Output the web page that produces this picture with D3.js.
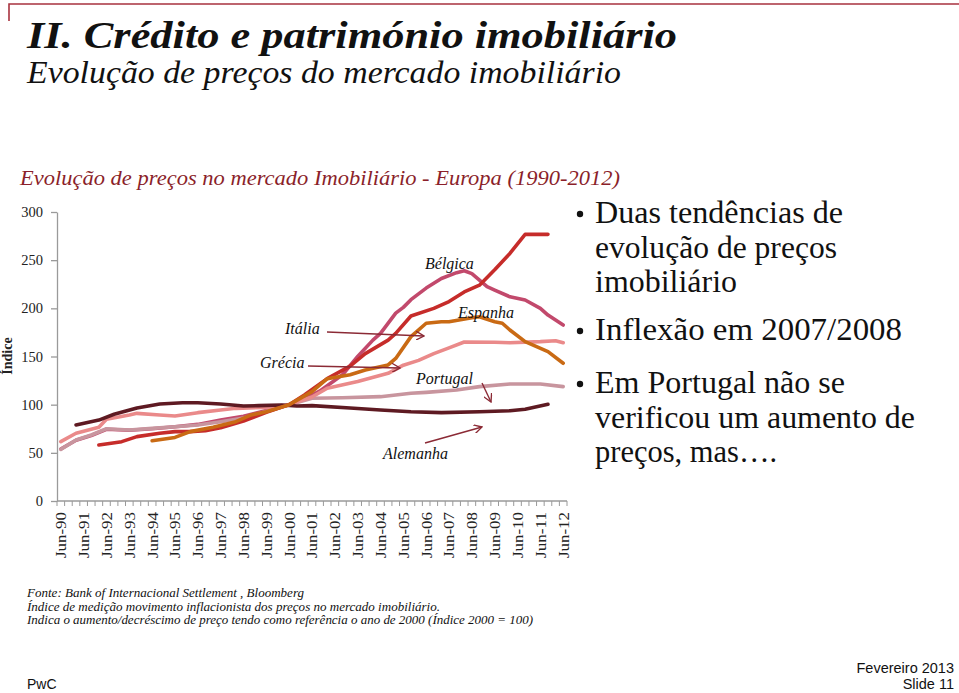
<!DOCTYPE html>
<html><head><meta charset="utf-8">
<script src="https://cdn.jsdelivr.net/npm/d3@7/dist/d3.min.js"></script>
<style>body{margin:0;background:#fff}svg{display:block}</style>
</head><body>
<svg id="c" width="959" height="693"></svg>
<script>
// ---------- DATA ----------
const tickLabels = ["Jun-90","Jun-91","Jun-92","Jun-93","Jun-94","Jun-95","Jun-96","Jun-97","Jun-98","Jun-99","Jun-00","Jun-01","Jun-02","Jun-03","Jun-04","Jun-05","Jun-06","Jun-07","Jun-08","Jun-09","Jun-10","Jun-11","Jun-12"];
const periodMonths = ["Jun","Oct","Feb"];
const yTicks = [0,50,100,150,200,250,300];
// series as [category index (4-month steps from Jun-90), index value]
const alemanha = [[2,79],[5,84],[7,90],[10,96.5],[13,100.7],[16,102],[18,102],[21,100.7],[24,98.6],[26,99],[29,99.7],[31,98.6],[33,99],[38,96.5],[42,94.5],[46,92.7],[50,91.7],[55,92.7],[59,93.7],[61,95.2],[64,100.4]];
const espanhaRed = [[5,58.1],[8,61.6],[10,66.8],[13,70.3],[15,72],[17,72],[19,73],[21,76],[24,83],[27,92],[30,100],[32,110],[35,127],[38,140],[40,153],[43,167],[44,174],[46,192],[49,200],[51,207],[53,217],[55,224],[57,240],[59,257],[61,276.8],[64,276.8]];
const belgica = [[0,54],[2,63],[4,68],[6,74.5],[9,73.5],[12,75],[15,77],[18,79.5],[21,84],[24,88],[27,94],[30,100],[32,106],[34,114],[37,131],[39,150],[41,167],[42,174],[44,195],[45,201],[46,209],[48,221],[50,231],[52,237],[53,239],[54,236],[56,222.5],[57,219],[59,212],[61,208.7],[63,200],[64,193],[66,182.7]];
const laranja = [[12,62.6],[15,66],[17,72],[20,76.5],[23,82.3],[25,89.3],[27,92.7],[30,100],[33,113.5],[35,127],[38,131],[40,136],[43,141.2],[44,148],[46,170.6],[48,184.5],[50,186],[51,186],[54,190.3],[55,191.3],[57,186],[58,184.5],[59,177.5],[61,165.4],[64,155],[66,143]];
const italia = [[0,61.6],[2,70.3],[5,76.5],[6,84.8],[9,89.3],[10,91],[13,89.3],[15,88.2],[18,91.7],[21,94.5],[23,96.2],[27,97.2],[30,100],[33,108],[35,117],[39,124],[43,132.5],[45,141],[47,146],[49,153],[51,159],[53,165],[57,164.8],[59,164.3],[63,165.4],[65,166.4],[66,164.3]];
const portugal = [[0,53.6],[2,63.3],[4,68.5],[6,75],[9,73.7],[12,75.4],[15,77.1],[18,78.9],[21,82.3],[24,86],[27,93],[30,100],[33,106.6],[37,107.2],[42,108.3],[46,111.8],[48,112.8],[52,115.2],[55,118.7],[59,121.5],[63,121.5],[66,118.7]];
const seriesNames = ["belgica","portugal","italia","alemanha","espanhaRed","laranja"];
const seriesData = [belgica, portugal, italia, alemanha, espanhaRed, laranja];
const seriesColors = ["#c2496c","#c8959e","#ea8a8a","#5e1a22","#c62c2a","#c96a14"];
const annLabels = ["Bélgica","Espanha","Itália","Grécia","Portugal","Alemanha"];
const bullets = [["Duas tendências de","evolução de preços","imobiliário"],["Inflexão em 2007/2008"],["Em Portugal não se","verificou um aumento de","preços, mas…."]];
const notes = ["Fonte: Bank of Internacional Settlement , Bloomberg","Índice de medição movimento inflacionista dos preços no mercado imobiliário.","Indica o aumento/decréscimo de preço tendo como referência o ano de 2000 (Índice 2000 = 100)"];

// categories (67 four-month periods)
const categories = d3.range(67).map(i => {
  const m = periodMonths[i % 3];
  const yr = 1990 + Math.floor(i / 3) + (i % 3 === 2 ? 1 : 0);
  return m + "-" + String(yr % 100).padStart(2, "0");
});

// ---------- DRAW ----------
const svg = d3.select("#c");
const serif = "'Liberation Serif', 'DejaVu Serif', serif";
const sans = "'Liberation Sans', Arial, sans-serif";
const x = d3.scaleBand().domain(categories).range([57, 567]).padding(0);
const y = d3.scaleLinear().domain([0, 300]).range([501, 212]);
const cx = i => x(categories[i]) + x.bandwidth() / 2;

// frame
svg.append("path").attr("d", "M9,21V4H959").attr("fill", "none").attr("stroke", "#a8323f").attr("stroke-width", 1.6);

function fitText(sel, w) { sel.attr("textLength", w).attr("lengthAdjust", "spacingAndGlyphs"); return sel; }

fitText(svg.append("text").attr("x", 27).attr("y", 48).attr("font-family", serif).attr("font-weight", "bold").attr("font-style", "italic").attr("font-size", 37).attr("fill", "#111").text("II. Crédito e património imobiliário"), 650);
fitText(svg.append("text").attr("x", 27).attr("y", 83).attr("font-family", serif).attr("font-style", "italic").attr("font-size", 31).attr("fill", "#111").text("Evolução de preços do mercado imobiliário"), 594);
fitText(svg.append("text").attr("x", 20).attr("y", 185).attr("font-family", serif).attr("font-style", "italic").attr("font-size", 21).attr("fill", "#8b1f2a").text("Evolução de preços no mercado Imobiliário - Europa (1990-2012)"), 600);

// y axis
const ya = svg.append("g").attr("transform", "translate(57,0)").call(d3.axisLeft(y).tickValues(yTicks).tickSize(6).tickSizeOuter(0).tickPadding(8));
ya.select(".domain").attr("stroke", "#9a9a9a").attr("stroke-width", 1.3);
ya.selectAll(".tick line").attr("stroke", "#9a9a9a").attr("stroke-width", 1.3);
ya.selectAll(".tick text").attr("font-family", serif).attr("font-size", 14.5).attr("fill", "#222");

svg.append("text").attr("transform", "translate(12,356) rotate(-90)").attr("text-anchor", "middle").attr("font-family", serif).attr("font-weight", "bold").attr("font-size", 14).attr("fill", "#222").text("Índice");

// x axis
const xg = svg.append("g");
xg.append("line").attr("x1", x.range()[0]).attr("x2", x.range()[1]).attr("y1", y(0)).attr("y2", y(0)).attr("stroke", "#9a9a9a").attr("stroke-width", 1.3);
const bounds = categories.map(c => x(c)).concat([x.range()[1]]);
xg.selectAll(".xt").data(bounds).enter().append("line").attr("x1", d => d).attr("x2", d => d).attr("y1", y(0)).attr("y2", y(0) + 5).attr("stroke", "#9a9a9a").attr("stroke-width", 1);
xg.selectAll(".xl").data(tickLabels).enter().append("text")
  .attr("transform", d => `translate(${cx(categories.indexOf(d))},${y(0) + 11}) rotate(-90)`)
  .attr("text-anchor", "end").attr("dy", "0.35em").attr("font-family", serif).attr("font-size", 15.5).attr("fill", "#222")
  .attr("textLength", 46).attr("lengthAdjust", "spacingAndGlyphs").text(d => d);

// lines
const line = d3.line().x(d => cx(d[0])).y(d => y(d[1]));
svg.append("g").selectAll("path").data(seriesData).enter().append("path")
  .attr("d", line).attr("fill", "none").attr("stroke", (d, i) => seriesColors[i])
  .attr("stroke-width", 3.6).attr("stroke-linejoin", "round").attr("stroke-linecap", "round");

// annotations
const annPos = [[425,269],[458,318],[285,334],[260,368],[416,384],[383,459]];
svg.append("g").selectAll("text").data(annLabels).enter().append("text")
  .attr("x", (d, i) => annPos[i][0]).attr("y", (d, i) => annPos[i][1])
  .attr("font-family", serif).attr("font-style", "italic").attr("font-size", 16).attr("fill", "#111").text(d => d);

svg.append("defs").append("marker").attr("id", "arr").attr("viewBox", "0 0 10 10").attr("refX", 9).attr("refY", 5)
  .attr("markerWidth", 9).attr("markerHeight", 9).attr("markerUnits", "userSpaceOnUse").attr("orient", "auto")
  .append("path").attr("d", "M0,0L9,5L0,10").attr("fill", "none").attr("stroke", "#8b2a35").attr("stroke-width", 1.5);
const arrows = [[327,332,424,336],[308,366,400,368],[482,383,491,402],[425,443,482,427]];
svg.append("g").selectAll("line").data(arrows).enter().append("line")
  .attr("x1", d => d[0]).attr("y1", d => d[1]).attr("x2", d => d[2]).attr("y2", d => d[3])
  .attr("stroke", "#8b2a35").attr("stroke-width", 1.4).attr("marker-end", "url(#arr)");

// bullets
const bulletTop = [223, 340, 393];
const lineH = 34.5;
const bulletW = [[248,242,142],[307],[250,320,182]];
bullets.forEach((lines, bi) => {
  svg.append("circle").attr("cx", 580).attr("cy", bulletTop[bi] - 9).attr("r", 3.2).attr("fill", "#111");
  lines.forEach((t, li) => {
    fitText(svg.append("text").attr("x", 595).attr("y", bulletTop[bi] + li * lineH).attr("font-family", serif).attr("font-size", 31).attr("fill", "#111").text(t), bulletW[bi][li]);
  });
});

// notes
const noteW = [277, 413, 506];
notes.forEach((t, i) => {
  fitText(svg.append("text").attr("x", 27).attr("y", 597 + i * 13.5).attr("font-family", serif).attr("font-style", "italic").attr("font-size", 13).attr("fill", "#111").text(t), noteW[i]);
});

svg.append("text").attr("x", 27).attr("y", 689).attr("font-family", sans).attr("font-size", 14).attr("fill", "#111").text("PwC");
svg.append("text").attr("x", 954).attr("y", 673).attr("text-anchor", "end").attr("font-family", sans).attr("font-size", 14.5).attr("fill", "#111").text("Fevereiro 2013");
svg.append("text").attr("x", 954).attr("y", 689).attr("text-anchor", "end").attr("font-family", sans).attr("font-size", 14.5).attr("fill", "#111").text("Slide 11");
</script>
</body></html>
